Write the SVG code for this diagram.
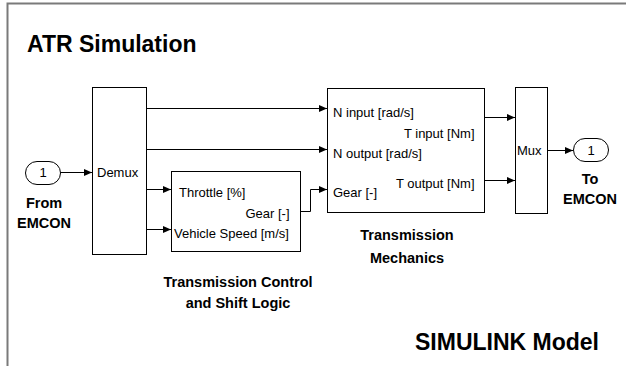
<svg xmlns="http://www.w3.org/2000/svg" width="626" height="366" viewBox="0 0 626 366">
<style>
.blk{fill:#fff;stroke:#000;stroke-width:1}
.port{fill:#fff;stroke:#000;stroke-width:1}
.lbl{font-family:"Liberation Sans",Arial,sans-serif;font-size:13px;fill:#000}
.bl{font-family:"Liberation Sans",Arial,sans-serif;font-size:14.5px;font-weight:bold;fill:#000;text-anchor:middle}
.title{font-family:"Liberation Sans",Arial,sans-serif;font-size:23px;font-weight:bold;fill:#000}
.wire{fill:none;stroke:#000;stroke-width:1;marker-end:url(#ah)}
</style>
<defs>
<marker id="ah" markerUnits="userSpaceOnUse" markerWidth="9" markerHeight="8" refX="8" refY="3.5" orient="auto">
<path d="M0,0 L8,3.5 L0,7 z" fill="#000"/>
</marker>
</defs>
<rect width="626" height="366" fill="#fff"/>
<path d="M7.5 366 V3.5 H626" fill="none" stroke="#7a7a7a" stroke-width="2"/>
<text class="title" x="27" y="52">ATR Simulation</text>
<text class="title" x="415" y="350">SIMULINK Model</text>

<g id="connectors">
<path class="wire" d="M60 172.5 H92"/>
<path class="wire" d="M146 108.5 H327"/>
<path class="wire" d="M146 149.5 H327"/>
<path class="wire" d="M146 189.5 H171"/>
<path class="wire" d="M146 229.5 H171"/>
<path class="wire" d="M300 211.5 H310.5 V189.5 H327"/>
<path class="wire" d="M484 117.5 H515"/>
<path class="wire" d="M484 180.5 H515"/>
<path class="wire" d="M547 150.5 H573"/>
</g>

<g id="inport">
<rect class="port" x="25.5" y="161.5" width="35" height="23" rx="11.5" ry="11.5"/>
<text class="lbl" x="43" y="177" text-anchor="middle">1</text>
<text class="bl" x="44" y="208">From</text>
<text class="bl" x="44" y="228">EMCON</text>
</g>

<g id="demux">
<rect class="blk" x="92.5" y="87.5" width="54" height="167"/>
<text class="lbl" x="97" y="177">Demux</text>
</g>

<g id="shift-logic">
<rect class="blk" x="171.5" y="171.5" width="129" height="80"/>
<text class="lbl" x="179" y="197">Throttle [%]</text>
<text class="lbl" x="289.5" y="218" text-anchor="end">Gear [-]</text>
<text class="lbl" x="174" y="237.5">Vehicle Speed [m/s]</text>
<text class="bl" x="238" y="287">Transmission Control</text>
<text class="bl" x="238" y="308">and Shift Logic</text>
</g>

<g id="mechanics">
<rect class="blk" x="327.5" y="88.5" width="157" height="124"/>
<text class="lbl" x="333" y="116.5">N input [rad/s]</text>
<text class="lbl" x="474.5" y="137.5" text-anchor="end">T input [Nm]</text>
<text class="lbl" x="333" y="158">N output [rad/s]</text>
<text class="lbl" x="474.5" y="187.5" text-anchor="end">T output [Nm]</text>
<text class="lbl" x="333" y="196.5">Gear [-]</text>
<text class="bl" x="407" y="240">Transmission</text>
<text class="bl" x="407" y="263">Mechanics</text>
</g>

<g id="mux">
<rect class="blk" x="515.5" y="87.5" width="32" height="126"/>
<text class="lbl" x="517" y="155">Mux</text>
</g>

<g id="outport">
<rect class="port" x="573.5" y="138.5" width="35" height="23" rx="11.5" ry="11.5"/>
<text class="lbl" x="591" y="155" text-anchor="middle">1</text>
<text class="bl" x="590" y="184">To</text>
<text class="bl" x="590" y="204">EMCON</text>
</g>
</svg>
